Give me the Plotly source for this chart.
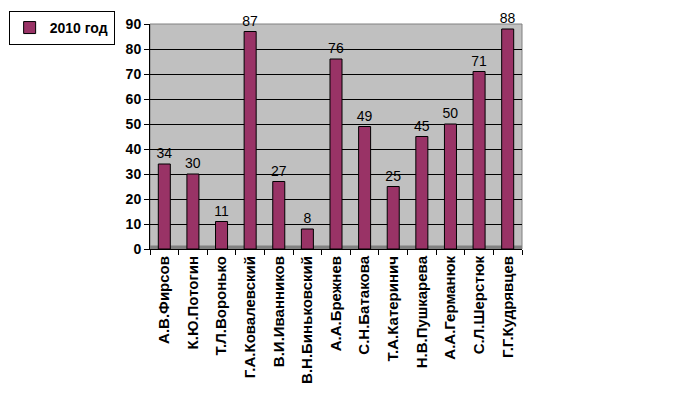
import plotly.graph_objects as go

names = ["А.В.Фирсов", "К.Ю.Потогин", "Т.Л.Воронько", "Г.А.Ковалевский",
         "В.И.Иванников", "В.Н.Биньковский", "А.А.Брежнев", "С.Н.Батакова",
         "Т.А.Катеринич", "Н.В.Пушкарева", "А.А.Германюк", "С.Л.Шерстюк",
         "Г.Г.Кудрявцев"]
values_2010 = [34, 30, 11, 87, 27, 8, 76, 49, 25, 45, 50, 71, 88]
series_name = "2010 год"
y_ticks = [0, 10, 20, 30, 40, 50, 60, 70, 80, 90]

FONT = "Liberation Sans, Arial, sans-serif"

fig = go.Figure()
fig.add_trace(go.Bar(
    x=names, y=values_2010, name=series_name,
    marker=dict(color="#993366", line=dict(color="black", width=1)),
    width=0.42,
    text=[str(v) for v in values_2010], textposition="outside",
    textfont=dict(family=FONT, size=14, color="black"),
    constraintext="none",
    cliponaxis=False,
))

fig.update_layout(
    width=685, height=405,
    margin=dict(l=142, r=171, t=16, b=164, autoexpand=False),
    paper_bgcolor="white", plot_bgcolor="#c0c0c0",
    font=dict(family=FONT, size=14, color="black"),
    showlegend=True,
    legend=dict(x=-0.38, y=1.058, xanchor="left", yanchor="top",
                bordercolor="black", borderwidth=1, bgcolor="white",
                font=dict(family=FONT, size=14, color="black", weight="bold"),
                itemwidth=30, tracegroupgap=0),
    bargap=0.58,
)
fig.update_xaxes(
    tickangle=-90, tickfont=dict(family=FONT, size=15, weight="bold"),
    showline=True, linecolor="black", ticks="outside", ticklen=5,
    tickson="boundaries", tickcolor="black",
    showgrid=False, automargin=False,
)
fig.update_yaxes(
    range=[0, 90], tickvals=y_ticks,
    tickfont=dict(family=FONT, size=14, weight="bold"),
    showgrid=True, gridcolor="black", gridwidth=1,
    showline=True, linecolor="black", ticks="outside", ticklen=5,
    tickcolor="black", zeroline=False, automargin=False,
)
fig.add_shape(type="rect", xref="paper", yref="paper", x0=0, x1=1, y0=0, y1=1,
              line=dict(color="#808080", width=1), fillcolor="rgba(0,0,0,0)",
              layer="below")
fig.add_shape(type="line", xref="paper", yref="y", x0=0, x1=1, y0=0.6, y1=0.6,
              line=dict(color="#808080", width=4), layer="below")
fig.write_html("out.html")
